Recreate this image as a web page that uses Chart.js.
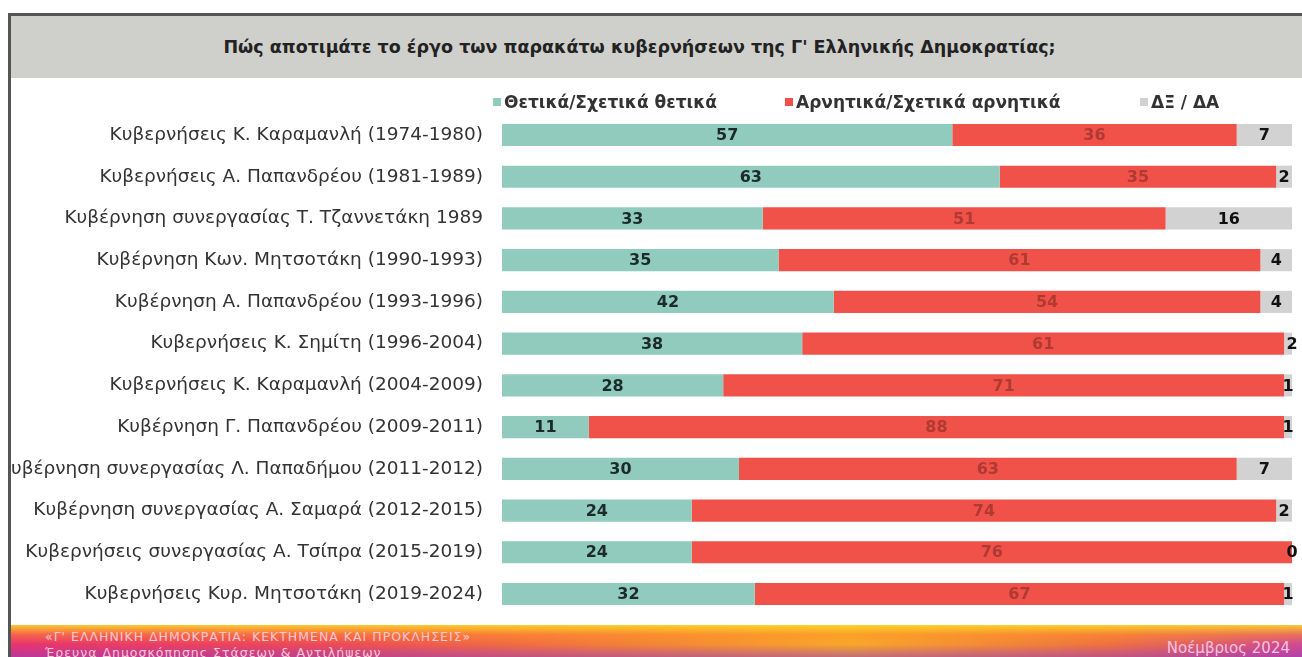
<!DOCTYPE html>
<html>
<head>
<meta charset="utf-8">
<script src="https://cdn.jsdelivr.net/npm/chart.js@4/dist/chart.umd.min.js"></script>
<style>
  body { margin: 0; width: 1302px; height: 657px; background: #fff; overflow: hidden; position: relative; font-family: 'DejaVu Sans', sans-serif; }
  #frameTop { position: absolute; left: 8px; top: 13px; width: 1294px; height: 3px; background: #555; }
  #frameLeft { position: absolute; left: 8px; top: 13px; width: 3px; height: 644px; background: #555; z-index: 3; }
  #titleBand { position: absolute; left: 11px; top: 16px; width: 1257px; padding-right: 34px; height: 62px; background: #cfcfcb;
    display: flex; align-items: center; justify-content: center; font-weight: bold; font-size: 17.5px; color: #222; }
  #legend { position: absolute; top: 92px; left: 0; width: 1302px; height: 22px; font-weight: bold; font-size: 17px; color: #333; }
  #legend span.item { position: absolute; top: 0; display: flex; align-items: center; white-space: nowrap; }
  #legend span.box { width: 8px; height: 8px; margin-right: 3px; display: inline-block; }
  #wrap { position: absolute; left: 11px; top: 92px; width: 1291px; height: 545px; }
  #footer { position: absolute; left: 11px; top: 625px; width: 1291px; height: 32px; overflow: hidden; z-index: 2;
    background:
      linear-gradient(to bottom, rgba(255,215,40,0.9) 0%, rgba(255,150,40,0.5) 30%, rgba(240,60,110,0) 60%, rgba(150,60,190,0.55) 100%),
      linear-gradient(to right, #e8336e 0%, #ee4a55 25%, #f47a3a 45%, #f8a828 65%, #f07040 85%, #d04a90 100%); }
  #footer .l1 { position: absolute; left: 34px; top: 4px; font-size: 12.5px; letter-spacing: 1px; color: #fbc8d6; }
  #footer .l2 { position: absolute; left: 34px; top: 20px; font-size: 12.5px; letter-spacing: 1px; color: #fbc8d6; }
  #footer .r { position: absolute; right: 12px; top: 14px; font-size: 15px; color: #f6c2e0; }
</style>
</head>
<body>
<div id="frameTop"></div>
<div id="frameLeft"></div>
<div id="titleBand">Πώς αποτιμάτε το έργο των παρακάτω κυβερνήσεων της Γ' Ελληνικής Δημοκρατίας;</div>
<div id="wrap"><canvas id="chart"></canvas></div>
<div id="legend"></div>
<div id="footer">
  <div class="l1">«Γ' ΕΛΛΗΝΙΚΗ ΔΗΜΟΚΡΑΤΙΑ: ΚΕΚΤΗΜΕΝΑ ΚΑΙ ΠΡΟΚΛΗΣΕΙΣ»</div>
  <div class="l2">Έρευνα Δημοσκόπησης Στάσεων &amp; Αντιλήψεων</div>
  <div class="r">Νοέμβριος 2024</div>
</div>
<script>
const governments = [
  'Κυβερνήσεις Κ. Καραμανλή (1974-1980)',
  'Κυβερνήσεις Α. Παπανδρέου (1981-1989)',
  'Κυβέρνηση συνεργασίας Τ. Τζαννετάκη 1989',
  'Κυβέρνηση Κων. Μητσοτάκη (1990-1993)',
  'Κυβέρνηση Α. Παπανδρέου (1993-1996)',
  'Κυβερνήσεις Κ. Σημίτη (1996-2004)',
  'Κυβερνήσεις Κ. Καραμανλή (2004-2009)',
  'Κυβέρνηση Γ. Παπανδρέου (2009-2011)',
  'Κυβέρνηση συνεργασίας Λ. Παπαδήμου (2011-2012)',
  'Κυβέρνηση συνεργασίας Α. Σαμαρά (2012-2015)',
  'Κυβερνήσεις συνεργασίας Α. Τσίπρα (2015-2019)',
  'Κυβερνήσεις Κυρ. Μητσοτάκη (2019-2024)'
];
const positive = [57, 63, 33, 35, 42, 38, 28, 11, 30, 24, 24, 32];
const negative = [36, 35, 51, 61, 54, 61, 71, 88, 63, 74, 76, 67];
const dontKnow = [7, 2, 16, 4, 4, 2, 1, 1, 7, 2, 0, 1];

const seriesNames = ['Θετικά/Σχετικά θετικά', 'Αρνητικά/Σχετικά αρνητικά', 'ΔΞ / ΔΑ'];
const seriesColors = ['#90cbbe', '#f0524a', '#d2d2d2'];
const labelColors = ['#1c2a28', '#b03a32', '#111'];
const legendLeft = [493, 785, 1140];

// html legend
const legendEl = document.getElementById('legend');
seriesNames.forEach((name, i) => {
  const item = document.createElement('span');
  item.className = 'item';
  item.style.left = legendLeft[i] + 'px';
  item.innerHTML = `<span class="box" style="background:${seriesColors[i]}"></span>${name}`;
  legendEl.appendChild(item);
});

// values printed in the middle of every segment
const segmentLabels = {
  id: 'segmentLabels',
  afterDatasetsDraw(chart) {
    const ctx = chart.ctx;
    ctx.save();
    ctx.font = 'bold 16px "DejaVu Sans"';
    ctx.textAlign = 'center';
    ctx.textBaseline = 'middle';
    chart.data.datasets.forEach((ds, di) => {
      const meta = chart.getDatasetMeta(di);
      meta.data.forEach((bar, i) => {
        const cx = (bar.x + bar.base) / 2;
        ctx.fillStyle = labelColors[di];
        ctx.fillText(String(ds.data[i]), cx, bar.y + 1);
      });
    });
    ctx.restore();
  }
};

new Chart(document.getElementById('chart'), {
  type: 'bar',
  data: {
    labels: governments,
    datasets: [
      { label: seriesNames[0], data: positive, backgroundColor: seriesColors[0] },
      { label: seriesNames[1], data: negative, backgroundColor: seriesColors[1] },
      { label: seriesNames[2], data: dontKnow, backgroundColor: seriesColors[2] }
    ]
  },
  options: {
    indexAxis: 'y',
    responsive: true,
    maintainAspectRatio: false,
    animation: false,
    layout: { padding: { top: 5, bottom: 5, right: 10, left: 0 } },
    barPercentage: 0.53,
    categoryPercentage: 1,
    plugins: { legend: { display: false }, tooltip: { enabled: false } },
    scales: {
      x: { stacked: true, min: 0, max: 100, display: false },
      y: {
        stacked: true,
        grid: { display: false },
        border: { display: false },
        ticks: { color: '#333', padding: 11, font: { family: 'DejaVu Sans', size: 18.5 } },
        afterFit(scale) { scale.width = 491; }
      }
    }
  },
  plugins: [segmentLabels]
});
</script>
</body>
</html>
